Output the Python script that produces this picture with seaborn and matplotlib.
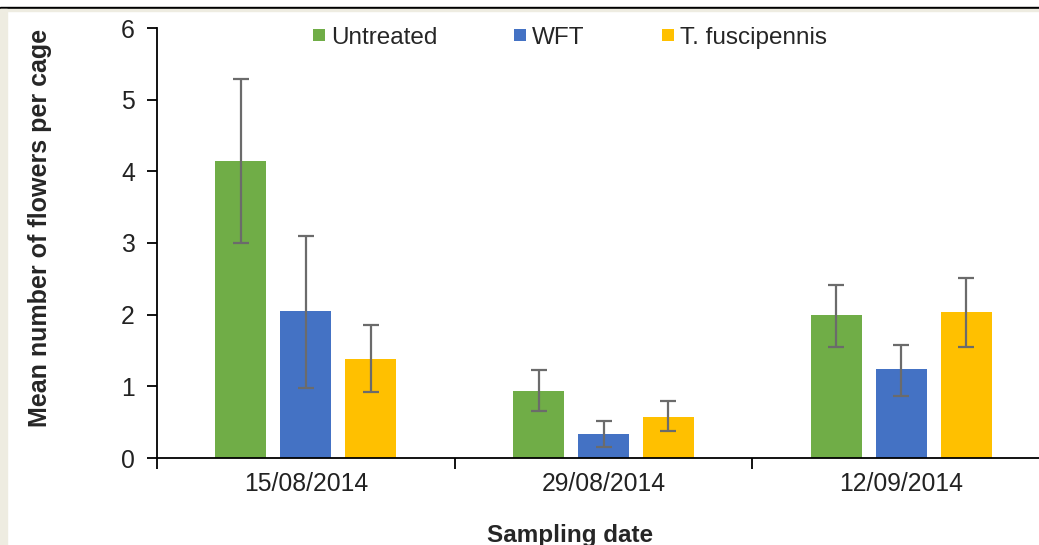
import pandas as pd
import matplotlib
matplotlib.use("Agg")
import matplotlib.pyplot as plt
from matplotlib.patches import Rectangle
from matplotlib.lines import Line2D
import seaborn as sns

dates = ["15/08/2014", "29/08/2014", "12/09/2014"]
treatments = ["Untreated", "WFT", "T. fuscipennis"]
untreated = [4.14, 0.93, 1.99]
wft = [2.05, 0.34, 1.24]
tfusc = [1.38, 0.57, 2.04]
untreated_hi = [5.29, 1.23, 2.41]
untreated_lo = [3.00, 0.65, 1.55]
wft_hi = [3.10, 0.52, 1.58]
wft_lo = [0.97, 0.16, 0.87]
tfusc_hi = [1.86, 0.80, 2.51]
tfusc_lo = [0.92, 0.37, 1.55]

colors = ["#70AD47", "#4472C4", "#FFC000"]

df = pd.DataFrame({
    "date": dates * 3,
    "treatment": [t for t in treatments for _ in dates],
    "mean": untreated + wft + tfusc,
})
his = [untreated_hi, wft_hi, tfusc_hi]
los = [untreated_lo, wft_lo, tfusc_lo]

sns.set_style("white")
plt.rcParams["font.family"] = ["Liberation Sans", "DejaVu Sans"]

fig = plt.figure(figsize=(10.39, 5.45), dpi=100)
ax = fig.add_axes([157 / 1039, 87 / 545, 893 / 1039, 430 / 545])

sns.barplot(data=df, x="date", y="mean", hue="treatment", order=dates,
            hue_order=treatments, palette=colors, errorbar=None,
            width=0.655, gap=0.215, saturation=1, linewidth=0, ax=ax,
            legend=False)

for cont, hi, lo in zip(ax.containers, his, los):
    for bar, h, l in zip(cont, hi, lo):
        xc = bar.get_x() + bar.get_width() / 2
        m = bar.get_height()
        ax.errorbar(xc, m, yerr=[[m - l], [h - m]], fmt="none",
                    ecolor="#6b6b6b", elinewidth=1.6, capsize=5.5,
                    capthick=1.6, zorder=5)

ax.set_xlim(-0.5, 2.5)
ax.set_ylim(0, 6)
ax.set_yticks(range(7))
ax.set_xticks([-0.5, 0.5, 1.5, 2.5], minor=True)
ax.tick_params(axis="x", which="major", length=0, labelsize=17.8, pad=10,
               colors="#222222")
ax.tick_params(axis="x", which="minor", length=8, width=1.3, color="black",
               direction="out", bottom=True)
ax.tick_params(axis="y", length=7, width=1.3, color="black", labelsize=17.8,
               pad=9, left=True, labelcolor="#222222")
for s in ["top", "right"]:
    ax.spines[s].set_visible(False)
for s in ["left", "bottom"]:
    ax.spines[s].set_color("black")
    ax.spines[s].set_linewidth(1.3)

ax.set_xlabel("Sampling date", fontsize=17.5, fontweight="bold", va="baseline")
ax.xaxis.set_label_coords((570 - 157) / 893, (458 - 542) / 430)
ax.set_ylabel("Mean number of flowers per cage", fontsize=18,
              fontweight="bold")
ax.yaxis.set_label_coords((52 - 157) / 893, (458 - 228) / 430)

handles = [Line2D([], [], marker="s", linestyle="none", markersize=9,
                  markerfacecolor=c, markeredgewidth=0) for c in colors]
fig.legend(handles, treatments, loc="center", ncol=3, frameon=False,
           fontsize=17.5, bbox_to_anchor=(568 / 1039, 1 - 38 / 545),
           handletextpad=0.1, handlelength=0.8, columnspacing=3.0)

# page border decoration
fig.patches.append(Rectangle((0, 1 - 9 / 545), 1, 2.5 / 545,
                             transform=fig.transFigure, color="black",
                             zorder=10))
fig.patches.append(Rectangle((0, 1 - 11 / 545), 1, 2 / 545,
                             transform=fig.transFigure, color="#EEECE1",
                             zorder=10))
fig.patches.append(Rectangle((0, 0), 7 / 1039, 1 - 9 / 545,
                             transform=fig.transFigure, color="#EEECE1",
                             zorder=10))

fig.savefig("out.png", dpi=100)
